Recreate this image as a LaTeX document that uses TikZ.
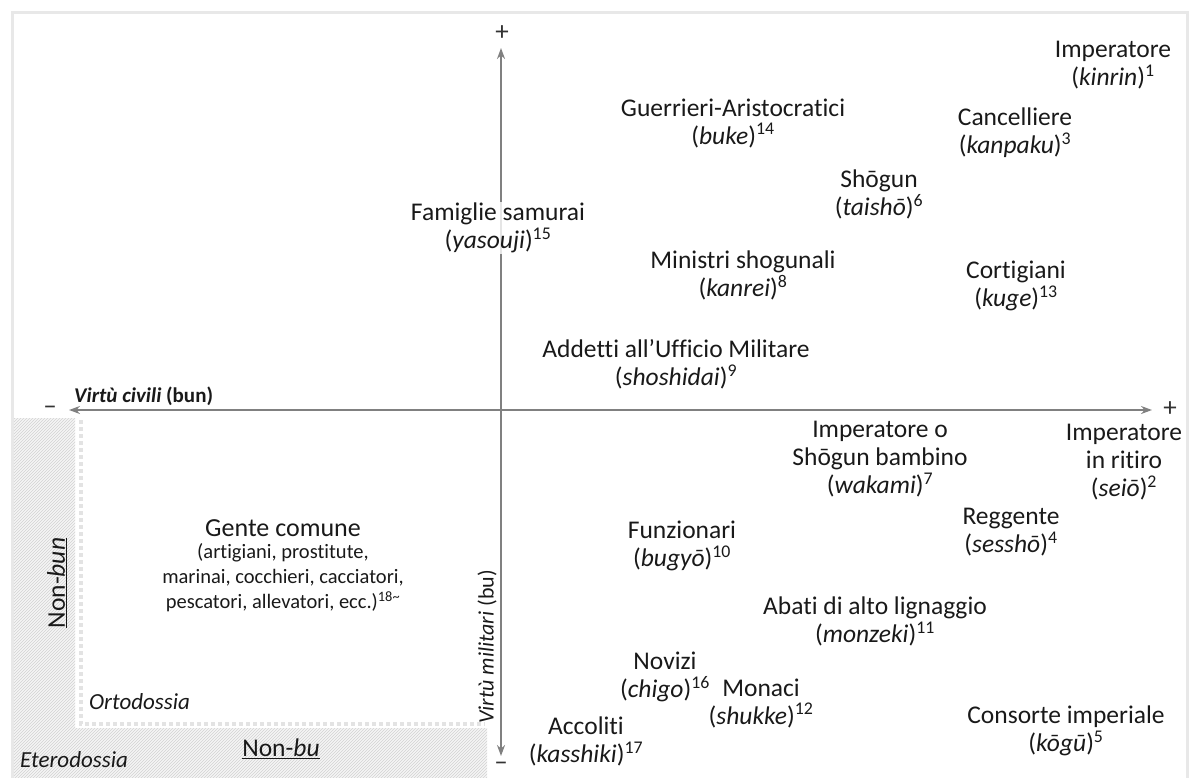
\documentclass[tikz,border=0pt]{standalone}
\usepackage{fontspec}
\setmainfont{Carlito}[Ligatures=NoCommon]
\usetikzlibrary{arrows.meta, patterns, positioning}

\newcommand{\refnum}[1]{\textsuperscript{#1}}

\begin{document}
\begin{tikzpicture}[
            x = 1pt, y = -1pt, % pixel-like units
            > = {Stealth[length=11pt, width=8pt]}, % arrow head style
            axisline/.style = {draw=gray, line width=2pt},
        ]
 \tikzstyle{rank}=[
            align = center,
            inner sep = 1pt,
            text = black!90,
            font = \fontsize{25.5}{28}\selectfont
        ]
 \tikzstyle{small}=[
            align = center,
            inner sep = 1pt,
            text = black!90,
            font = \fontsize{20.5}{25}\selectfont
        ]
 \tikzstyle{sign}=[
            inner sep = 0pt,
            text = black!80,
            font = \fontsize{27}{27}\selectfont
        ]
\useasboundingbox (0,0) rectangle (1193,778);
% frame and hatched heterodoxy zone
\draw[gray!18, line width=3pt] (12,778) -- (12,13) -- (1187,13) -- (1187,778);
\fill[gray!8] (14,418) -- (75,418) -- (75,728) -- (487,728) -- (487,778) -- (14,778) -- cycle;
\fill[pattern=north east lines, pattern color=gray!35] (14,418) -- (75,418) -- (75,728) -- (487,728) -- (487,778) -- (14,778) -- cycle;
\draw[gray!22, line width=4pt, dash pattern=on 4pt off 3pt] (81,420) -- (81,724) -- (485,724);
% axes
\coordinate (top) at (501,48);
\coordinate (bottom) at (501,756);
\coordinate (left) at (69,410);
\coordinate (right) at (1152,410);
\draw[axisline, <->] (top) -- (bottom);
\draw[axisline, <->] (left) -- (right);
\node[sign] (plusY) at (502,33) {+};
\node[sign] (minusY) at (501,766) {–};
\node[sign] (minusX) at (50,410) {–};
\node[sign] (plusX) at (1170,409) {+};
\node[small, anchor=west, font=\fontsize{21}{24}\selectfont\bfseries] (civ) at (73,396) {\textit{Virtù civili} (bun)};
\node[small, rotate=90, font=\fontsize{22}{24}\selectfont] (mil) at (487,647) {\textit{Virtù militari} (bu)};
% upper half
\node[rank] (kinrin) at (1113,65) {Imperatore\\(\textit{kinrin})\refnum{1}};
\node[rank] (kanpaku) at (1015,133) {Cancelliere\\(\textit{kanpaku})\refnum{3}};
\node[rank] (buke) at (733,123) {Guerrieri-Aristocratici\\(\textit{buke})\refnum{14}};
\node[rank] (taisho) at (879,194) {Shōgun\\(\textit{taishō})\refnum{6}};
\node[rank, fill=white, fill opacity=0.8, text opacity=1] (yasouji) at (498,228) {Famiglie samurai\\(\textit{yasouji})\refnum{15}};
\node[rank] (kanrei) at (743,275) {Ministri shogunali\\(\textit{kanrei})\refnum{8}};
\node[rank] (kuge) at (1016,286) {Cortigiani\\(\textit{kuge})\refnum{13}};
\node[rank] (shoshidai) at (676,364) {Addetti all’Ufficio Militare\\(\textit{shoshidai})\refnum{9}};
% lower half
\node[rank] (wakami) at (880,459) {Imperatore o\\Shōgun bambino\\(\textit{wakami})\refnum{7}};
\node[rank] (seio) at (1124,462) {Imperatore\\in ritiro\\(\textit{seiō})\refnum{2}};
\node[rank] (sessho) at (1011,532) {Reggente\\(\textit{sesshō})\refnum{4}};
\node[rank] (bugyo) at (682,546) {Funzionari\\(\textit{bugyō})\refnum{10}};
\node[rank] (monzeki) at (875,621) {Abati di alto lignaggio\\(\textit{monzeki})\refnum{11}};
\node[rank] (chigo) at (665,677) {Novizi\\(\textit{chigo})\refnum{16}};
\node[rank] (shukke) at (761,703) {Monaci\\(\textit{shukke})\refnum{12}};
\node[rank] (kasshiki) at (586,741) {Accoliti\\(\textit{kasshiki})\refnum{17}};
\node[rank] (kogu) at (1066,731) {Consorte imperiale\\(\textit{kōgū})\refnum{5}};
% common people and outer zone
\node[rank, font=\fontsize{26}{28}\selectfont] (gente) at (283,528) {Gente comune};
\node[small, below=5pt of gente] (mestieri) {(artigiani, prostitute,\\marinai, cocchieri, cacciatori,\\pescatori, allevatori, ecc.)\refnum{18\textasciitilde}};
\node[rank, rotate=90] (nonbun) at (57,583) {\underline{Non-\textit{bun}}};
\node[rank] (nonbu) at (281,749) {\underline{Non-\textit{bu}}};
\node[small, anchor=west, font=\fontsize{23}{25}\selectfont\itshape] (orto) at (88,702) {Ortodossia};
\node[small, anchor=west, font=\fontsize{23}{25}\selectfont\itshape] (etero) at (19,760) {Eterodossia};
\end{tikzpicture}
\end{document}
